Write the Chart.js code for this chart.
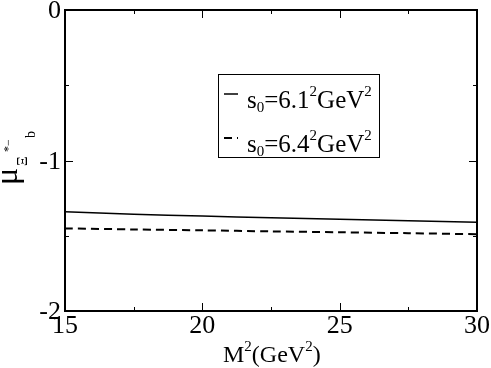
<!DOCTYPE html>
<html>
<head>
<meta charset="UTF-8"/>
<title>mu Xi_b</title>
<script src="https://cdn.jsdelivr.net/npm/chart.js"></script>
<style>
	html, body { margin: 0; padding: 0; background: #fff; }
	#wrap { width: 491px; height: 368px; }
</style>
</head>
<body>
<div id="wrap"><canvas id="c"></canvas></div>
<script>
	// M^2 (GeV^2) and the two s0 curves
	const m2 = [15, 17.5, 20, 22.5, 25, 27.5, 30];
	const muS61 = [-1.340, -1.357, -1.369, -1.381, -1.391, -1.401, -1.411];
	const muS64 = [-1.451, -1.458, -1.464, -1.471, -1.477, -1.483, -1.490];
	const s0Values = ["6.1", "6.4"];

	const SERIF = "'Liberation Serif', serif";

	// frame, inward ticks, tick labels, axis titles and legend
	const decor = {
		id: "decor",
		afterDraw(chart) {
			const ctx = chart.ctx;
			const a = chart.chartArea;
			const xs = chart.scales.x, ys = chart.scales.y;
			ctx.save();
			ctx.strokeStyle = "#000";
			ctx.fillStyle = "#000";
			ctx.lineWidth = 2;
			ctx.strokeRect(a.left, a.top, a.right - a.left, a.bottom - a.top);

			ctx.lineWidth = 1;
			ctx.beginPath();
			for (let v = 15; v <= 30; v += 2.5) {
				const px = Math.round(xs.getPixelForValue(v)) + 0.5;
				const len = (v % 5 === 0) ? 8 : 4;
				ctx.moveTo(px, a.bottom); ctx.lineTo(px, a.bottom - len);
				ctx.moveTo(px, a.top); ctx.lineTo(px, a.top + len);
			}
			for (let v = -2; v <= 0; v += 0.5) {
				const py = Math.round(ys.getPixelForValue(v)) + 0.5;
				const len = (v % 1 === 0) ? 8 : 4;
				ctx.moveTo(a.left, py); ctx.lineTo(a.left + len, py);
				ctx.moveTo(a.right, py); ctx.lineTo(a.right - len, py);
			}
			ctx.stroke();

			// tick labels from the scales
			ctx.font = "26px " + SERIF;
			ctx.textBaseline = "alphabetic";
			ctx.textAlign = "center";
			xs.ticks.forEach(t => {
				ctx.fillText(String(t.value), xs.getPixelForValue(t.value), 333);
			});
			ctx.textAlign = "right";
			ys.ticks.forEach(t => {
				ctx.fillText(String(t.value), 61, ys.getPixelForValue(t.value) + 8);
			});

			// x title: M^2(GeV^2)
			ctx.textAlign = "left";
			let x = 223;
			const yb = 362;
			ctx.font = "24px " + SERIF;
			ctx.fillText("M", x, yb); x += ctx.measureText("M").width;
			ctx.font = "15px " + SERIF;
			ctx.fillText("2", x, yb - 11); x += ctx.measureText("2").width;
			ctx.font = "24px " + SERIF;
			ctx.fillText("(GeV", x, yb); x += ctx.measureText("(GeV").width;
			ctx.font = "15px " + SERIF;
			ctx.fillText("2", x, yb - 11); x += ctx.measureText("2").width;
			ctx.font = "24px " + SERIF;
			ctx.fillText(")", x, yb);

			// y title: mu with subscript Xi_b^{*-}, rotated
			ctx.save();
			ctx.translate(17, 185);
			ctx.rotate(-Math.PI / 2);
			ctx.font = "32px " + SERIF;
			ctx.fillText("\u03bc", 0, 0);
			ctx.font = "15px " + SERIF;
			ctx.fillText("\u039e", 19, 10);
			ctx.font = "12px " + SERIF;
			ctx.fillText("*\u2212", 33, -5);
			ctx.font = "14px " + SERIF;
			ctx.fillText("b", 47, 18);
			ctx.restore();

			// legend box
			ctx.lineWidth = 1;
			ctx.strokeRect(218.5, 74.5, 161, 83);
			chart.data.datasets.forEach((ds, i) => {
				const rowY = [94, 138][i];
				ctx.lineWidth = ds.borderWidth;
				ctx.setLineDash(ds.borderDash || []);
				ctx.beginPath();
				ctx.moveTo(224, rowY); ctx.lineTo(238, rowY);
				ctx.stroke();
				ctx.setLineDash([]);
				const base = rowY + 14;
				let tx = 247;
				ctx.font = "25px " + SERIF;
				ctx.fillText("s", tx, base); tx += ctx.measureText("s").width;
				ctx.font = "15px " + SERIF;
				ctx.fillText("0", tx, base + 4); tx += ctx.measureText("0").width;
				ctx.font = "25px " + SERIF;
				const mid = "=" + s0Values[i];
				ctx.fillText(mid, tx, base); tx += ctx.measureText(mid).width;
				ctx.font = "15px " + SERIF;
				ctx.fillText("2", tx, base - 12); tx += ctx.measureText("2").width;
				ctx.font = "25px " + SERIF;
				ctx.fillText("GeV", tx, base); tx += ctx.measureText("GeV").width;
				ctx.font = "15px " + SERIF;
				ctx.fillText("2", tx, base - 12);
			});
			ctx.restore();
		}
	};

	new Chart(document.getElementById("c"), {
		type: "line",
		data: {
			labels: m2,
			datasets: [
				{
					label: "s0=6.1^2GeV^2",
					data: m2.map((v, i) => ({ x: v, y: muS61[i] })),
					borderColor: "#000",
					borderWidth: 1.5,
					pointRadius: 0,
					tension: 0.3
				},
				{
					label: "s0=6.4^2GeV^2",
					data: m2.map((v, i) => ({ x: v, y: muS64[i] })),
					borderColor: "#000",
					borderWidth: 2,
					borderDash: [8, 5],
					pointRadius: 0,
					tension: 0.3
				}
			]
		},
		options: {
			responsive: true,
			maintainAspectRatio: false,
			animation: false,
			layout: { padding: { top: 10, right: 14, left: 0, bottom: 0 } },
			plugins: { legend: { display: false }, tooltip: { enabled: false } },
			scales: {
				x: {
					type: "linear",
					min: 15, max: 30,
					grid: { display: false, drawTicks: false },
					border: { display: false },
					ticks: { stepSize: 5, display: false },
					afterFit(s) { s.height = 57; s.paddingLeft = 0; s.paddingRight = 0; }
				},
				y: {
					min: -2, max: 0,
					grid: { display: false, drawTicks: false },
					border: { display: false },
					ticks: { stepSize: 1, display: false },
					afterFit(s) { s.width = 65; s.paddingTop = 0; s.paddingBottom = 0; }
				}
			}
		},
		plugins: [decor]
	});
</script>
</body>
</html>
